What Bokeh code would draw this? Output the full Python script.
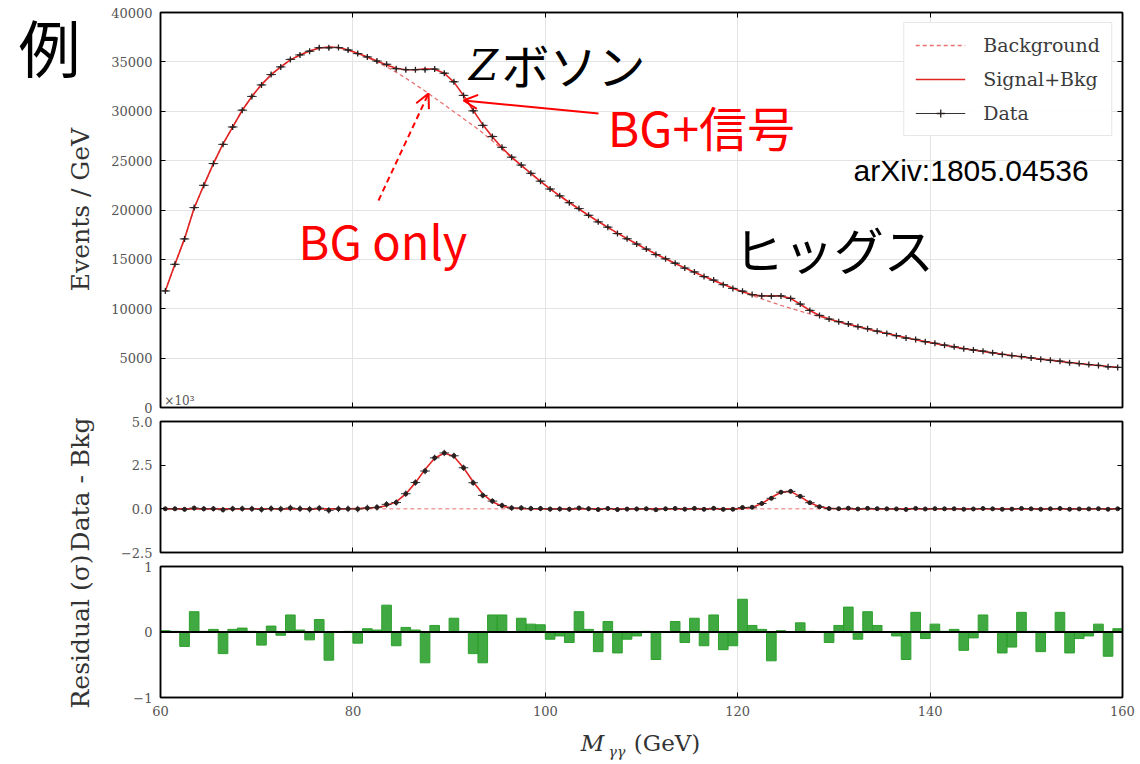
import numpy as np
from bokeh.plotting import figure
from bokeh.models import (ColumnDataSource, FixedTicker, LinearAxis, Legend, LegendItem,
                          Label, Arrow, OpenHead, Span, Grid)
from bokeh.layouts import row, column
from bokeh.core.properties import value
from bokeh.embed import file_html
from bokeh.resources import INLINE

# ---------------- data ----------------
mass = np.arange(60.5, 160.0, 1.0)          # bin centres, 1 GeV bins from 60 to 160

background = [
    11800, 14500, 17100, 20200, 22500, 24700, 26700, 28400, 30100, 31500,
    32700, 33700, 34500, 35200, 35700, 36100, 36400, 36500, 36450, 36200,
    35850, 35450, 35000, 34500, 33950, 33350, 32700, 32050, 31350, 30650,
    29950, 29250, 28550, 27800, 27000, 26150, 25300, 24500, 23700, 22900,
    22140, 21440, 20760, 20100, 19460, 18840, 18240, 17660, 17100, 16560,
    16040, 15540, 15060, 14590, 14140, 13700, 13280, 12870, 12470, 12080,
    11700, 11340, 11000, 10670, 10350, 10050, 9760, 9480, 9200, 8940,
    8680, 8430, 8190, 7950, 7720, 7500, 7280, 7070, 6870, 6670,
    6490, 6310, 6140, 5980, 5830, 5680, 5540, 5400, 5270, 5140,
    5020, 4900, 4780, 4670, 4560, 4450, 4350, 4250, 4150, 4060,
]

signal = [
    0, 0, 0, 0, 0, 0, 0, 0, 0, 0,
    0, 0, 0, 0, 0, 0, 0, 0, 0, 0,
    20, 40, 80, 180, 400, 850, 1500, 2250, 2900, 3200,
    3000, 2350, 1550, 850, 400, 150, 50, 20, 0, 0,
    0, 0, 0, 0, 0, 0, 0, 0, 0, 0,
    0, 0, 0, 0, 0, 0, 0, 0, 0, 0,
    20, 80, 300, 650, 950, 1000, 700, 350, 120, 30,
    0, 0, 0, 0, 0, 0, 0, 0, 0, 0,
    0, 0, 0, 0, 0, 0, 0, 0, 0, 0,
    0, 0, 0, 0, 0, 0, 0, 0, 0, 0,
]

residual = [
    0.02, 0.01, -0.22, 0.31, 0.01, 0.04, -0.33, 0.04, 0.06, 0.01,
    -0.20, 0.09, -0.05, 0.26, 0.03, -0.12, 0.19, -0.43, 0.00, 0.01,
    -0.17, 0.05, 0.03, 0.41, -0.21, 0.07, 0.03, -0.47, 0.10, 0.00,
    0.21, 0.01, -0.33, -0.47, 0.26, 0.26, 0.00, 0.21, 0.12, 0.11,
    -0.11, -0.06, -0.16, 0.31, 0.04, -0.30, 0.16, -0.32, -0.11, -0.06,
    0.01, -0.42, 0.00, 0.16, -0.16, 0.21, -0.21, 0.26, -0.27, -0.21,
    0.50, 0.10, 0.04, -0.44, 0.02, 0.00, 0.14, 0.01, 0.00, -0.16,
    0.10, 0.38, -0.11, 0.31, 0.10, 0.00, -0.06, -0.42, 0.30, -0.10,
    0.12, 0.01, 0.04, -0.28, -0.09, 0.26, 0.00, -0.32, -0.23, 0.30,
    0.01, -0.30, 0.00, 0.30, -0.32, -0.10, -0.06, 0.12, -0.37, 0.05,
]

x_ticks = [60, 80, 100, 120, 140, 160]
top_y_ticks = [0, 5000, 10000, 15000, 20000, 25000, 30000, 35000, 40000]
mid_y_ticks = [-2.5, 0.0, 2.5, 5.0]
bot_y_ticks = [-1, 0, 1]

legend_labels = ["Background", "Signal+Bkg", "Data"]

# ---------------- derived ----------------
bkg = np.array(background, dtype=float)
sig = np.array(signal, dtype=float)
res = np.array(residual, dtype=float)
model = bkg + sig
data = model + res * np.sqrt(model)
err = np.sqrt(data)

src = ColumnDataSource(dict(
    x=mass, x0=mass - 0.5, x1=mass + 0.5,
    bkg=bkg, model=model, data=data, lo=data - err, hi=data + err,
    zero=np.zeros_like(mass), sig_k=sig / 1000.0,
    diff_k=(data - bkg) / 1000.0, dlo=(data - bkg - err) / 1000.0, dhi=(data - bkg + err) / 1000.0,
    res=res,
))

SERIF = "DejaVu Serif"
CJK = "Noto Sans CJK JP"
RED = "#e02424"
RED_DASH = "#e87070"
TICK_COLOR = "#555555"


def conf_axis(ax, ticks, labels=True, overrides=None):
    ax.axis_line_color = "black"
    ax.axis_line_width = 1.5
    if labels:
        ax.ticker = FixedTicker(ticks=ticks)
        ax.major_tick_in = 5
        ax.major_tick_out = 0
        ax.major_tick_line_color = "black"
        ax.major_tick_line_width = 1
        ax.minor_tick_line_color = None
        ax.major_label_text_font = SERIF
        ax.major_label_text_font_size = "13px"
        ax.major_label_text_color = TICK_COLOR
        ax.major_label_standoff = 8
        if overrides:
            ax.major_label_overrides = overrides
    else:
        # ticks only, no labels: draw them as "minor" ticks so no label text is produced
        ax.ticker = FixedTicker(ticks=[], minor_ticks=ticks)
        ax.major_tick_line_color = None
        ax.minor_tick_in = 5
        ax.minor_tick_out = 0
        ax.minor_tick_line_color = "black"
        ax.minor_tick_line_width = 1
        ax.major_label_standoff = 0


def make_panel(height, y_range, border_top, border_bottom, xlabels, yticks, yoverrides=None, hgrid=False):
    p = figure(width=1040, height=height, x_range=(60, 160), y_range=y_range,
               toolbar_location=None, output_backend="svg",
               min_border_left=60, min_border_right=18,
               min_border_top=border_top, min_border_bottom=border_bottom)
    p.outline_line_color = "black"
    p.outline_line_width = 1.5
    p.background_fill_color = "white"
    p.border_fill_color = "white"
    conf_axis(p.xaxis[0], x_ticks, labels=xlabels)
    conf_axis(p.yaxis[0], yticks, labels=True, overrides=yoverrides)
    top_ax = LinearAxis()
    conf_axis(top_ax, x_ticks, labels=False)
    p.add_layout(top_ax, "above")
    right_ax = LinearAxis()
    conf_axis(right_ax, yticks, labels=False)
    p.add_layout(right_ax, "right")
    p.xgrid.ticker = FixedTicker(ticks=x_ticks)
    p.xgrid.grid_line_color = "#e3e3e3"
    p.xgrid.grid_line_width = 1
    if hgrid:
        p.ygrid.ticker = FixedTicker(ticks=yticks)
        p.ygrid.grid_line_color = "#e3e3e3"
        p.ygrid.grid_line_width = 1
    else:
        p.ygrid.grid_line_color = None
    return p


# ---------------- top panel ----------------
top = make_panel(414, (0, 40000), 12, 7, False, top_y_ticks, hgrid=True)
r_bkg = top.line("x", "bkg", source=src, line_color=RED_DASH, line_width=1.3, line_dash="4 3")
r_sig = top.line("x", "model", source=src, line_color=RED, line_width=1.6)
r_hseg = top.segment("x0", "data", "x1", "data", source=src, line_color="#333333", line_width=1)
top.segment("x", "lo", "x", "hi", source=src, line_color="#333333", line_width=1)
r_pts = top.scatter("x", "data", source=src, marker="cross", size=6, line_color="#2a2020", line_width=1.3)

legend = Legend(items=[
    LegendItem(label=legend_labels[0], renderers=[r_bkg]),
    LegendItem(label=legend_labels[1], renderers=[r_sig]),
    LegendItem(label=legend_labels[2], renderers=[r_hseg, r_pts]),
], location="top_right")
legend.label_text_font = SERIF
legend.label_text_font_size = "19px"
legend.label_text_color = "#3a3a3a"
legend.glyph_width = 50
legend.glyph_height = 20
legend.label_standoff = 18
legend.spacing = 12
legend.padding = 11
legend.margin = 10
legend.border_line_color = "#cfcfcf"
legend.border_line_width = 1
legend.background_fill_alpha = 0.9
top.add_layout(legend)

# annotations on the top panel
top.add_layout(Label(x=93.58, y=34633, text="Z", text_font=SERIF, text_font_style="italic",
                     text_font_size="42px", text_align="center", text_baseline="middle", text_color="black"))
top.add_layout(Label(x=95.45, y=34736, text="ボソン", text_font=CJK, text_font_size="48px",
                     text_align="left", text_baseline="middle", text_color="black"))
top.add_layout(Label(x=106.5, y=28457, text="BG+信号", text_font=CJK, text_font_size="48px",
                     text_align="left", text_baseline="middle", text_color="#ff0000"))
top.add_layout(Label(x=74.35, y=17013, text="BG only", text_font=CJK, text_font_size="47px",
                     text_align="left", text_baseline="middle", text_color="#ff0000"))
top.add_layout(Label(x=119.6, y=16102, text="ヒッグス", text_font=CJK, text_font_size="50px",
                     text_align="left", text_baseline="middle", text_color="black"))
top.add_layout(Label(x=132.04, y=24001, text="arXiv:1805.04536", text_font="Liberation Sans",
                     text_font_size="30px", text_align="left", text_baseline="middle", text_color="black"))
top.add_layout(Label(x=60.4, y=0, text="×10³", text_font=SERIF, text_font_size="12px",
                     text_align="left", text_baseline="bottom", text_color="#555555"))
top.add_layout(Arrow(end=OpenHead(size=14, line_color="#ff0000", line_width=2),
                     x_start=105.53, y_start=29773, x_end=91.50, y_end=31090,
                     line_color="#ff0000", line_width=2))
top.add_layout(Arrow(end=OpenHead(size=14, line_color="#ff0000", line_width=2),
                     x_start=82.66, y_start=20963, x_end=87.86, y_end=31799,
                     line_color="#ff0000", line_width=2, line_dash="6 4"))

# ---------------- middle panel ----------------
mid = make_panel(145, (-2.5, 5.0), 7, 7, False, mid_y_ticks,
                 yoverrides={-2.5: "−2.5", 0.0: "0.0", 2.5: "2.5", 5.0: "5.0"})
mid.line("x", "zero", source=src, line_color="#f2a0a0", line_width=1.5, line_dash="4 3")
mid.line("x", "sig_k", source=src, line_color=RED, line_width=1.6)
mid.segment("x0", "diff_k", "x1", "diff_k", source=src, line_color="#333333", line_width=1)
mid.segment("x", "dlo", "x", "dhi", source=src, line_color="#333333", line_width=1)
mid.scatter("x", "diff_k", source=src, marker="circle", size=4, fill_color="#2a2020", line_color="#2a2020")

# ---------------- bottom panel ----------------
bot = make_panel(168, (-1, 1), 7, 30, True, bot_y_ticks,
                 yoverrides={-1: "−1", 0: "0", 1: "1"})
bot.vbar(x="x", top="res", bottom=0, width=1.0, source=src, fill_color="#2ca02c",
         line_color="#2ca02c", fill_alpha=0.9)
bot.add_layout(Span(location=0, dimension="width", line_color="black", line_width=2))

# ---------------- x-axis title strip ----------------
xlab = figure(width=1040, height=37, x_range=(60, 160), y_range=(0, 37),
              toolbar_location=None, output_backend="svg",
              x_axis_location=None, y_axis_location=None,
              min_border_left=60, min_border_right=18, min_border_top=0, min_border_bottom=0)
xlab.outline_line_color = None
xlab.background_fill_color = "white"
xlab.border_fill_color = "white"
for g in xlab.select(type=Grid):
    g.visible = False
xlab.text(x=[104.9], y=[22], text=["M"], text_font=value(SERIF), text_font_style="italic",
          text_font_size=value("23px"), text_align="center", text_baseline="middle", text_color="#333333")
xlab.text(x=[107.45], y=[13], text=["γγ"], text_font=value(SERIF), text_font_style="italic",
          text_font_size=value("14px"), text_align="center", text_baseline="middle", text_color="#333333")
xlab.text(x=[109.2], y=[22], text=["(GeV)"], text_font=value(SERIF),
          text_font_size=value("23px"), text_align="left", text_baseline="middle", text_color="#333333")

# ---------------- left strip with rotated y labels and 例 ----------------
lab = figure(width=100, height=764, x_range=(0, 100), y_range=(0, 764),
             toolbar_location=None, output_backend="svg",
             x_axis_location=None, y_axis_location=None, min_border=0)
lab.outline_line_color = None
lab.background_fill_color = "white"
lab.border_fill_color = "white"
for g in lab.select(type=Grid):
    g.visible = False
lab.text(x=[49], y=[719], text=["例"], text_font=value(CJK), text_font_size=value("62px"),
         text_align="center", text_baseline="middle", text_color="black")
lab.text(x=[80, 80, 80], y=[555, 280, 133], text=["Events / GeV", "Data - Bkg", "Residual (σ)"],
         angle=np.pi / 2, text_font=value(SERIF), text_font_size=value("25px"),
         text_align="center", text_baseline="middle", text_color="#333333")

layout = row(lab, column(top, mid, bot, xlab))

open("out.html", "w").write(file_html(layout, INLINE))
